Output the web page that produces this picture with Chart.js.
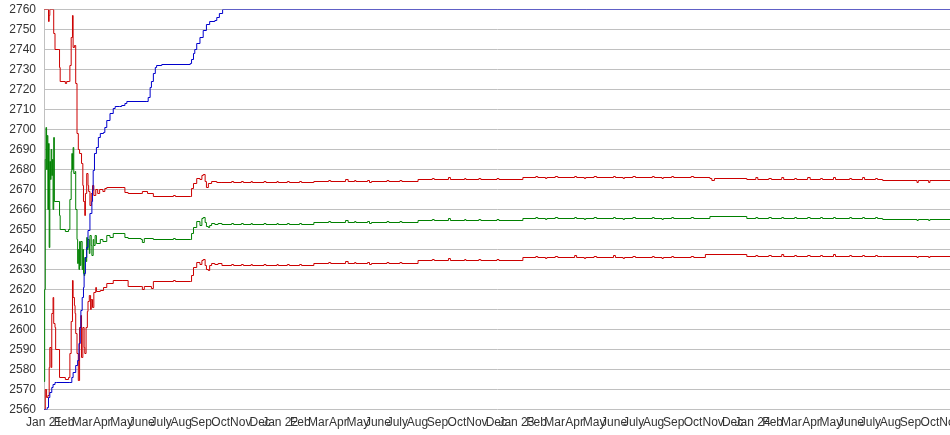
<!DOCTYPE html>
<html><head><meta charset="utf-8">
<script src="https://cdn.jsdelivr.net/npm/chart.js@4/dist/chart.umd.min.js"></script>
<style>
html,body{margin:0;padding:0;background:#fff;overflow:hidden;width:950px;height:435px}
#wrap{width:950px;height:435px;overflow:hidden;position:relative}
canvas{display:block}
</style></head><body>
<div id="wrap"><canvas id="c" width="960" height="435"></canvas></div>
<script>
// x values are days counted from 1 Jan 2021
const monthNames = ["Jan","Feb","Mar","Apr","May","June","July","Aug","Sep","Oct","Nov","Dec"];
const yearLabels = ["Jan 21","Jan 22","Jan 23","Jan 24"];
const tickLabels = [];
for (let i = 0; i < 47; i++) tickLabels.push(i % 12 === 0 ? yearLabels[i / 12] : monthNames[i % 12]);
const tickDays = tickLabels.map((_, i) => (Date.UTC(2021 + Math.floor(i / 12), i % 12, 1) - Date.UTC(2021, 0, 1)) / 86400000);

const yMin = 2560, yMax = 2760, yStep = 10;

const blueLine = [[0,2560],[5,2561],[7,2566],[9,2568.5],[12,2571],[14,2572.5],[17,2573.5],[19,2573.5],[40,2573.5],[43,2576],
 [45,2578.5],[49,2582],[52,2584.5],[54,2593],[56,2601],[57,2609.5],[59,2616],[61,2621],[62,2628],[64,2636],
 [66,2641],[68,2649.5],[71,2658],[74,2664],[75,2669.5],[76,2679.5],[78,2688],[81,2691],[84,2696],[87,2698],
 [92,2698.5],[94,2701],[97,2704.5],[102,2708],[107,2710.5],[110,2711.5],[117,2711.5],[120,2712],[125,2713],[128,2714],
 [159,2714],[161,2716],[164,2721],[166,2724],[169,2728],[172,2731],[174,2732],[182,2732.5],[226,2733],[228,2735],
 [231,2738],[233,2740],[236,2743],[241,2746],[246,2749.5],[251,2752.5],[256,2754],[264,2754.5],[267,2756],[271,2758],
 [276,2760],[1400,2760]];

const upperRedEarly = [[0,2760],[6,2760],[7,2754],[8,2757],[9,2760],[14,2760],[15,2748],[17,2740],[23,2740],[24,2731],
 [25,2724],[33,2723],[35,2724],[39,2724],[40,2732],[42,2746],[44,2757],[45,2741],[47,2742],[49,2723],
 [51,2698],[53,2690],[55,2688],[58,2683],[60,2672],[61,2664],[63,2657],[64,2668],[66,2678],[68,2672],
 [69,2669],[71,2662],[73,2668],[75,2672],[77,2667],[80,2670],[83,2668],[86,2670],[91,2669],[94,2670.5],
 [97,2671],[122,2671],[125,2668.5],[130,2668],[150,2668],[152,2669],[160,2668],[169,2666.5],[200,2667],[203,2666.5],
 [226,2666.5],[228,2670.5],[231,2673],[236,2675.5],[241,2675],[244,2677],[246,2677.5],[249,2674],[251,2671],[254,2673],
 [259,2674],[267,2673.5]];
const upperRedLate = [[275,2673.5],[290,2674],[293,2673.5],[305,2674],[308,2673.5],[320,2674],[322,2673.5],[340,2674],[343,2673.5],[360,2674],[362,2673.5],[376,2674],[379,2673.5],[395,2674],[398,2673.5],
 [417,2674],[440,2674.5],[443,2674],[466,2675],[470,2674],[480,2674.5],[482,2674],[500,2674.5],[503,2673.5],[506,2674],[530,2674.5],[533,2674],[550,2674.5],[553,2674],
 [578,2675],[600,2675.5],[603,2675],[625,2676],[628,2675],[650,2675.5],[652,2675],[672,2675.5],[675,2675],[700,2675.5],[703,2675],
 [740,2676],[760,2676.5],[763,2676],[775,2675.5],[777,2676],[790,2676.5],[794,2676],[820,2676.5],[823,2676],[835,2675.5],[837,2676],[850,2676.5],[854,2676],[880,2676.5],[883,2676],[895,2675.5],[897,2676],[910,2676.5],[914,2676],[940,2676.5],[943,2676],[955,2675.5],[957,2676],[970,2676.5],[973,2676],[1000,2676.5],[1004,2676],
 [1029,2675.5],[1032,2674.5],[1036,2675.5],
 [1086,2675],[1100,2676],[1103,2675],[1120,2675.5],[1124,2675],[1140,2676],[1143,2675],[1160,2675.5],[1163,2675],[1180,2676],[1184,2675],[1200,2675.5],[1203,2675],[1220,2676],[1223,2675],[1245,2675.5],[1248,2675],[1265,2676],[1268,2675],[1285,2675.5],[1288,2675],
 [1296,2674.5],[1349,2673.5],[1351,2674.5],[1367,2673.5],[1369,2674.5],[1400,2674.5]];

const greenEarly = [[0,2574],[1,2620],[2,2685],[3,2701],[4,2680],[5,2697],[6,2660],[7,2693],[8,2641],[9,2684],
 [10,2675],[11,2690],[12,2677],[13,2685],[14,2660],[15,2696],[16,2664],[24,2657],[25,2650],[33,2649],
 [38,2650],[40,2665],[42,2679],[43,2688],[44,2680],[45,2691],[46,2678],[48,2679],[49,2660],[51,2645],
 [52,2633],[53,2640],[54,2630],[55,2644],[56,2632],[57,2644],[59,2630],[60,2640],[61,2628],[62,2627],
 [63,2636],[65,2634],[66,2646],[67,2640],[68,2645],[70,2638],[71,2647],[73,2642],[74,2637],[76,2645],
 [77,2642],[79,2647],[81,2643],[87,2645],[91,2644],[97,2647],[102,2646],[107,2648],[122,2648],[125,2646],
 [130,2645.5],[150,2645],[152,2643.5],[155,2645.5],[169,2645],[200,2645.5],[203,2645],[226,2645],[228,2648],[231,2651],
 [236,2654],[241,2652],[244,2655.5],[246,2656],[249,2653.5],[251,2651.5],[254,2651],[256,2652],[259,2653],[264,2652.5],
 [269,2653]];
const greenLate = [[275,2652.5],[290,2653],[293,2652.5],[305,2653],[308,2652.5],[320,2653],[322,2652.5],[340,2653],[343,2652.5],[360,2653],[362,2652.5],[376,2653],[379,2652.5],[395,2653],[398,2652.5],
 [417,2653.5],[440,2654],[443,2653.5],[466,2654.5],[470,2653.5],[480,2654],[482,2653.5],[500,2654],[503,2653],[506,2653.5],[530,2654],[533,2653.5],[550,2654],[553,2653.5],
 [578,2654.5],[600,2655],[603,2654.5],[625,2655.5],[628,2654.5],[650,2655],[652,2654.5],[672,2655],[675,2654.5],[700,2655],[703,2654.5],
 [740,2655.5],[760,2656],[763,2655.5],[775,2655],[777,2655.5],[790,2656],[794,2655.5],[820,2656],[823,2655.5],[835,2655],[837,2655.5],[850,2656],[854,2655.5],[880,2656],[883,2655.5],[895,2655],[897,2655.5],[910,2656],[914,2655.5],[940,2656],[943,2655.5],[955,2655],[957,2655.5],[970,2656],[973,2655.5],[1000,2656],[1004,2655.5],
 [1029,2656.5],
 [1086,2655.5],[1100,2656],[1103,2655.5],[1120,2656],[1124,2655.5],[1140,2656],[1143,2655.5],[1160,2656],[1163,2655.5],[1180,2656],[1184,2655.5],[1200,2656],[1203,2655.5],[1220,2656],[1223,2655.5],[1245,2656],[1248,2655.5],[1265,2656],[1268,2655.5],[1285,2656],[1288,2655.5],
 [1296,2655],[1349,2654.5],[1351,2655],[1367,2654.5],[1369,2655],[1400,2655]];

const lowerRedEarly = [[0,2560],[2,2570],[4,2566],[6,2567],[8,2581],[9,2591],[11,2581],[12,2608],[14,2616],[15,2603],
 [17,2601],[18,2590],[24,2576],[33,2575],[38,2576],[40,2588],[42,2604],[44,2624.5],[45,2616],[47,2612],
 [48,2608],[49,2598],[51,2588],[53,2574.5],[55,2601],[57,2607],[58,2586],[60,2601],[62,2591],[63,2588],
 [65,2601],[67,2609],[68,2614],[70,2617],[72,2610],[73,2615],[75,2611],[77,2618.5],[80,2621],[81,2619],
 [87,2619.5],[92,2621],[97,2623],[107,2624.5],[122,2624.5],[130,2621.5],[150,2621.5],[152,2620],[155,2621.5],[166,2620.5],
 [169,2624],[200,2624.5],[203,2624],[226,2624],[228,2627],[231,2631],[236,2633.5],[241,2632.5],[244,2634.5],[246,2635],
 [249,2632],[251,2630],[254,2629.5],[256,2632],[259,2633],[264,2632.5],[269,2633]];
const lowerRedLate = [[275,2632],[290,2632.5],[293,2632],[305,2632.5],[308,2632],[320,2632.5],[322,2632],[340,2632.5],[343,2632],[360,2632.5],[362,2632],[376,2632.5],[379,2632],[395,2632.5],[398,2632],
 [417,2633],[440,2633.5],[443,2633],[466,2634],[470,2633],[480,2633.5],[482,2633],[500,2633.5],[503,2632.5],[506,2633],[530,2633.5],[533,2633],[550,2633.5],[553,2633],
 [578,2634.5],[600,2635],[603,2634.5],[625,2635.5],[628,2634.5],[650,2635],[652,2634.5],[672,2635],[675,2634.5],[700,2635],[703,2634.5],
 [740,2636],[760,2636.5],[763,2636],[775,2635.5],[777,2636],[790,2636.5],[794,2636],[820,2637],[823,2636],[835,2635.5],[837,2636],[850,2636.5],[854,2636],[880,2637],[883,2636],[895,2635.5],[897,2636],[910,2636.5],[914,2636],[940,2636.5],[943,2636],[955,2635.5],[957,2636],[970,2636.5],[973,2636],[1000,2636.5],[1004,2636],
 [1022,2637.5],
 [1086,2636.5],[1100,2637],[1103,2636.5],[1120,2637],[1124,2636.5],[1140,2637.5],[1143,2636.5],[1160,2637],[1163,2636.5],[1180,2637],[1184,2636.5],[1200,2637],[1203,2636.5],[1220,2637.5],[1223,2636.5],[1245,2637],[1248,2636.5],[1265,2637],[1268,2636.5],[1285,2637],[1288,2636.5],
 [1296,2636.5],[1349,2636],[1351,2636.5],[1367,2636],[1369,2636.5],[1400,2636.5]];

const toXY = arr => arr.map(p => ({x: p[0], y: p[1]}));
const font = {family: "'Liberation Sans', Arial, sans-serif", size: 12};
const mk = (data, color, order) => ({data: toXY(data), borderColor: color, backgroundColor: color,
  borderWidth: 1, pointRadius: 0, stepped: true, fill: false, order: order});

new Chart(document.getElementById('c').getContext('2d'), {
  type: 'line',
  data: {datasets: [
    mk(blueLine, '#0000cc', 0),
    mk(upperRedEarly.concat(upperRedLate), '#cc0000', 1),
    mk(greenEarly.concat(greenLate), '#008000', 2),
    mk(lowerRedEarly.concat(lowerRedLate), '#cc0000', 3)
  ]},
  options: {
    responsive: false, animation: false, devicePixelRatio: 1,
    layout: {padding: {top: 9.5, right: 0, bottom: 0, left: 0}},
    plugins: {legend: {display: false}, tooltip: {enabled: false}},
    scales: {
      x: {
        type: 'linear', min: 0, max: tickDays[tickDays.length - 1],
        afterBuildTicks: s => { s.ticks = tickDays.map(v => ({value: v})); },
        afterFit: s => { s.height = 25.5; s.paddingRight = 10; s.paddingLeft = 0; s.paddingTop = 0; s.paddingBottom = 0; },
        grid: {display: false, drawTicks: false}, border: {display: false},
        ticks: {autoSkip: false, maxRotation: 0, minRotation: 0, padding: 6, color: '#333', font: font,
          callback: (v, i) => tickLabels[i]}
      },
      y: {
        min: yMin, max: yMax,
        afterFit: s => { s.width = 44; s.paddingTop = 0; s.paddingBottom = 0; },
        grid: {color: '#c0c0c0', drawTicks: false},
        border: {color: '#c0c0c0'},
        ticks: {stepSize: yStep, padding: 8, color: '#333', font: font, autoSkip: false,
          callback: v => String(v)}
      }
    }
  }
});
</script>
</body></html>
